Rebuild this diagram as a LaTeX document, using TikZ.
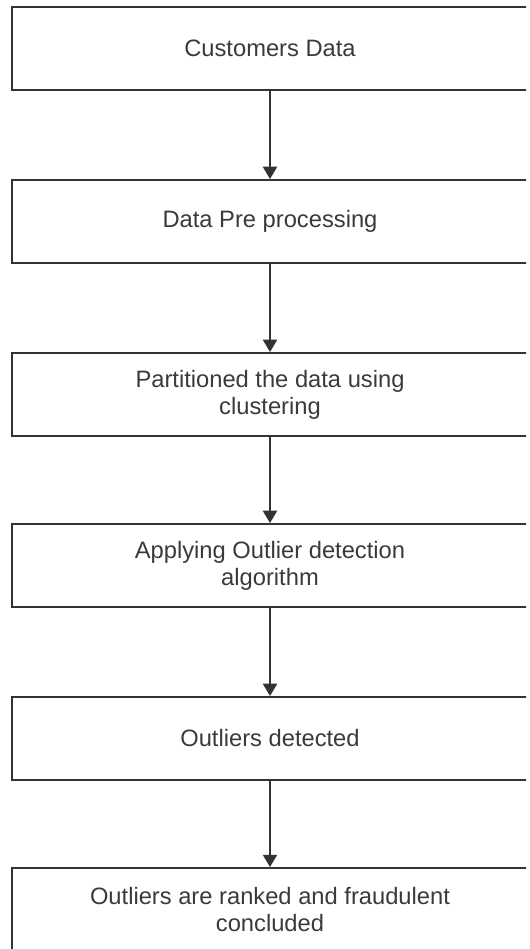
\documentclass[tikz,border=0pt]{standalone}
\usepackage{fontspec}
\setmainfont{Liberation Sans}
\usetikzlibrary{arrows.meta}
\definecolor{linegray}{HTML}{333333}
\definecolor{textgray}{HTML}{3A3A3A}
\begin{document}
\begin{tikzpicture}[x=0.02cm, y=-0.02cm,
  stepbox/.style={draw=linegray, line width=1.1pt, minimum width=10.32cm, minimum height=1.66cm,
    align=center, text=textgray, font=\fontsize{13.5}{15.5}\selectfont, inner sep=0pt},
  flow/.style={draw=linegray, line width=1.1pt, -{Triangle[width=8pt,length=7pt]}}]
\useasboundingbox (0,0) rectangle (529,949);
\clip (0,0) rectangle (526,949);
\node[stepbox] (data) at (270,48.5) {Customers Data};
\node[stepbox] (prep) at (270,221.5) {Data Pre processing};
\draw[flow](data) -- (prep);
\node[stepbox] (part) at (270,394.5) {Partitioned the data using\\clustering};
\draw[flow](prep) -- (part);
\node[stepbox] (algo) at (270,565.5) {Applying Outlier detection\\algorithm};
\draw[flow](part) -- (algo);
\node[stepbox] (found) at (270,738.5) {Outliers detected};
\draw[flow](algo) -- (found);
\node[stepbox] (rank) at (270,909.5) {Outliers are ranked and fraudulent\\concluded};
\draw[flow](found) -- (rank);
\end{tikzpicture}
\end{document}
